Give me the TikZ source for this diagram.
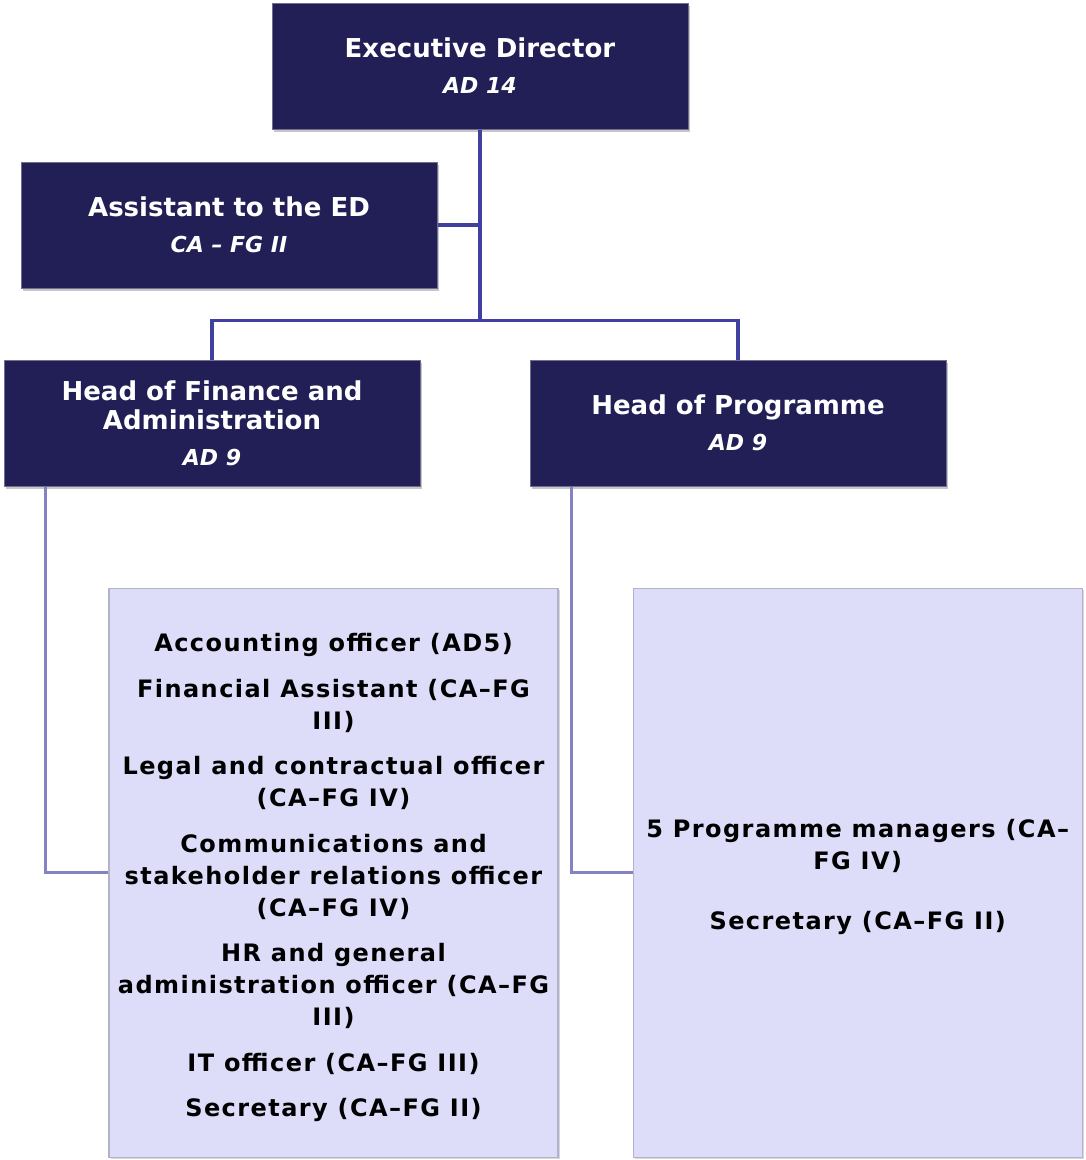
\documentclass[tikz,border=0pt]{standalone}
\usepackage{fontspec}
\setmainfont{DejaVu Sans}
\newfontfamily\spacedfont[LetterSpace=6]{DejaVu Sans}
\usepackage{tikz}
\usetikzlibrary{positioning, shadows}
\usepackage{xcolor}
\definecolor{chart-navy}{RGB}{33,31,86}
\definecolor{chart-line}{RGB}{64,64,160}
\definecolor{chart-soft}{RGB}{132,130,196}
\definecolor{chart-lilac}{RGB}{221,221,250}
\definecolor{chart-edge}{RGB}{178,178,205}

\begin{document}
\begin{tikzpicture}[x=1pt, y=-1pt, node distance=30pt,
	post/.style={draw=chart-navy!65!white, line width=1pt, fill=chart-navy, text=white,
		minimum width=416pt, minimum height=126pt, align=center, inner sep=0pt,
		font=\fontsize{26}{29}\selectfont\bfseries,
		drop shadow={shadow xshift=2pt, shadow yshift=-3pt, opacity=0.45}},
	staffbox/.style={draw=chart-edge, line width=1.2pt, fill=chart-lilac,
		minimum width=449pt, minimum height=569pt, inner sep=0pt,
		drop shadow={shadow xshift=2pt, shadow yshift=-2pt, opacity=0.3}},
	stafftext/.style={text=black, align=center, inner sep=0pt,
		font=\spacedfont\fontsize{24}{32}\selectfont\bfseries},
	topline/.style={draw=chart-line, line width=3.5pt},
	lowline/.style={draw=chart-soft, line width=3pt}]
	\useasboundingbox (0,0) rectangle (1085,1160);
	% posts
	\node[post] (ed) at (480,66) {Executive Director\\[7pt]{\fontsize{22}{22}\selectfont\itshape AD 14}};
	\node[post, below=32pt of ed, xshift=-251pt] (asst) {Assistant to the ED\\[7pt]{\fontsize{22}{22}\selectfont\itshape CA – FG II}};
	\node[post, below=71pt of asst, xshift=-17pt] (hfin) {Head of Finance and\\Administration\\[7pt]{\fontsize{22}{22}\selectfont\itshape AD 9}};
	\node[post, right=109pt of hfin] (hprog) {Head of Programme\\[7pt]{\fontsize{22}{22}\selectfont\itshape AD 9}};
	% staff
	\node[staffbox, below=101pt of hfin, xshift=121.5pt] (finstaff) {};
	\node[staffbox, right=74pt of finstaff] (progstaff) {};
	\node[stafftext, yshift=-5pt] (finlist) at (finstaff.center) {Accounting officer (AD5)\\[13.5pt]
		Financial Assistant (CA–FG\\III)\\[13.5pt]
		Legal and contractual officer\\(CA–FG IV)\\[13.5pt]
		Communications and\\stakeholder relations officer\\(CA–FG IV)\\[13.5pt]
		HR and general\\administration officer (CA–FG\\III)\\[13.5pt]
		IT officer (CA–FG III)\\[13.5pt]
		Secretary (CA–FG II)};
	\node[stafftext, yshift=-4pt] (proglist) at (progstaff.center) {5 Programme managers (CA–\\FG IV)\\[28pt]
		Secretary (CA–FG II)};
	% connectors
	\coordinate[above=39pt of hfin.north] (bus);
	\draw[topline] (ed.south) -- (ed.south |- bus);
	\draw[topline] (asst.east) -- (asst.east -| ed.south);
	\draw[topline] (hfin.north) |- (bus -| hprog.north) -- (hprog.north);
	\draw[lowline] ([xshift=-167pt]hfin.south) |- (finstaff.west);
	\draw[lowline] ([xshift=-167pt]hprog.south) |- (progstaff.west);
\end{tikzpicture}
\end{document}
